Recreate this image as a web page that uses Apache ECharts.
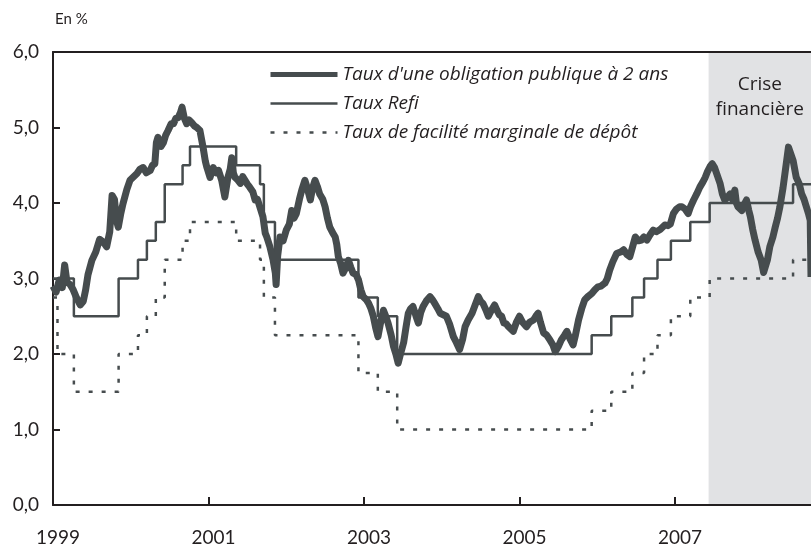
<!DOCTYPE html>
<html lang="fr">
<head>
  <meta charset="utf-8">
  <title>Taux d'intérêt</title>
  <style>
    * { margin: 0; padding: 0; }
    #chart-container { width: 811px; height: 549px; }
  </style>
</head>
<body>
  <div id="chart-container"></div>
  <script src="https://cdn.jsdelivr.net/npm/echarts@6/dist/echarts.min.js"></script>
  <script>
    // --- data ---
    var yearLabels = [1999, 2001, 2003, 2005, 2007];
    var xStart = 1999;
    var xEnd = 2008.75;
    var crisisStart = '2007-06-08';

    var bondName = "Taux d'une obligation publique à 2 ans";
    var refiName = 'Taux Refi';
    var depositName = 'Taux de facilité marginale de dépôt';

    // ECB rate changes (date, level)
    var refiDates = ['1999-01-01', '1999-04-09', '1999-11-05', '2000-02-04', '2000-03-17', '2000-04-28',
      '2000-06-09', '2000-09-01', '2000-10-06', '2001-05-11', '2001-08-31', '2001-09-18', '2001-11-09',
      '2002-12-06', '2003-03-07', '2003-06-06', '2005-12-06', '2006-03-08', '2006-06-15', '2006-08-09',
      '2006-10-11', '2006-12-13', '2007-03-14', '2007-06-13', '2008-07-09'];
    var refiValues = [3.0, 2.5, 3.0, 3.25, 3.5, 3.75, 4.25, 4.5, 4.75, 4.5, 4.25, 3.75, 3.25,
      2.75, 2.5, 2.0, 2.25, 2.5, 2.75, 3.0, 3.25, 3.5, 3.75, 4.0, 4.25];

    var depositDates = ['1999-01-01', '1999-01-22', '1999-04-09', '1999-11-05', '2000-02-04', '2000-03-17',
      '2000-04-28', '2000-06-09', '2000-09-01', '2000-10-06', '2001-05-11', '2001-08-31', '2001-09-18',
      '2001-11-09', '2002-12-06', '2003-03-07', '2003-06-06', '2005-12-06', '2006-03-08', '2006-06-15',
      '2006-08-09', '2006-10-11', '2006-12-13', '2007-03-14', '2007-06-13', '2008-07-09'];
    var depositValues = [2.75, 2.0, 1.5, 2.0, 2.25, 2.5, 2.75, 3.25, 3.5, 3.75, 3.5, 3.25, 2.75,
      2.25, 1.75, 1.5, 1.0, 1.25, 1.5, 1.75, 2.0, 2.25, 2.5, 2.75, 3.0, 3.25];

    // 2-year government bond yield [year, %]
    var bondSeries = [
      [1999.00, 2.90], [1999.04, 2.82], [1999.08, 2.98], [1999.12, 2.88], [1999.15, 3.18], [1999.18, 2.95],
      [1999.22, 2.92], [1999.26, 2.85], [1999.30, 2.75], [1999.35, 2.65], [1999.39, 2.70], [1999.42, 2.85],
      [1999.45, 3.05], [1999.50, 3.24], [1999.55, 3.35], [1999.60, 3.52], [1999.65, 3.48], [1999.69, 3.42],
      [1999.73, 3.62], [1999.76, 4.10], [1999.79, 4.05], [1999.82, 3.75], [1999.84, 3.68], [1999.87, 3.85],
      [1999.90, 3.99], [1999.95, 4.18], [1999.99, 4.30], [2000.04, 4.35], [2000.08, 4.39], [2000.12, 4.45],
      [2000.16, 4.47], [2000.20, 4.40], [2000.25, 4.43], [2000.28, 4.50], [2000.31, 4.52], [2000.33, 4.80],
      [2000.35, 4.87], [2000.39, 4.75], [2000.42, 4.80], [2000.45, 4.90], [2000.48, 4.96], [2000.52, 5.05],
      [2000.55, 5.05], [2000.58, 5.12], [2000.61, 5.13], [2000.64, 5.20], [2000.66, 5.27], [2000.69, 5.12],
      [2000.72, 5.05], [2000.75, 5.10], [2000.78, 5.07], [2000.82, 5.02], [2000.85, 5.00], [2000.89, 4.96],
      [2000.93, 4.74], [2000.96, 4.55], [2000.98, 4.47], [2001.02, 4.34], [2001.06, 4.47], [2001.10, 4.40],
      [2001.13, 4.43], [2001.17, 4.30], [2001.21, 4.08], [2001.25, 4.34], [2001.28, 4.45], [2001.30, 4.60],
      [2001.32, 4.40], [2001.34, 4.34], [2001.38, 4.30], [2001.41, 4.26], [2001.44, 4.35], [2001.47, 4.30],
      [2001.50, 4.25], [2001.53, 4.21], [2001.57, 4.15], [2001.60, 4.04], [2001.63, 4.05], [2001.66, 3.95],
      [2001.70, 3.82], [2001.73, 3.60], [2001.75, 3.55], [2001.79, 3.42], [2001.83, 3.25], [2001.86, 3.07],
      [2001.87, 2.92], [2001.89, 3.30], [2001.92, 3.55], [2001.96, 3.50], [2002.00, 3.64], [2002.04, 3.72],
      [2002.07, 3.90], [2002.10, 3.80], [2002.13, 3.86], [2002.17, 4.05], [2002.20, 4.17], [2002.24, 4.30],
      [2002.27, 4.20], [2002.31, 4.04], [2002.34, 4.20], [2002.37, 4.30], [2002.40, 4.22], [2002.43, 4.12],
      [2002.47, 4.05], [2002.50, 3.95], [2002.53, 3.80], [2002.56, 3.68], [2002.60, 3.60], [2002.63, 3.55],
      [2002.65, 3.45], [2002.67, 3.29], [2002.70, 3.20], [2002.73, 3.07], [2002.77, 3.15], [2002.80, 3.24],
      [2002.83, 3.15], [2002.86, 3.07], [2002.90, 3.05], [2002.93, 2.98], [2002.96, 2.85], [2002.99, 2.76],
      [2003.03, 2.72], [2003.06, 2.67], [2003.09, 2.60], [2003.12, 2.50], [2003.15, 2.35], [2003.18, 2.23],
      [2003.22, 2.45], [2003.25, 2.58], [2003.28, 2.50], [2003.31, 2.41], [2003.35, 2.25], [2003.38, 2.10],
      [2003.41, 2.00], [2003.44, 1.88], [2003.47, 2.00], [2003.51, 2.15], [2003.54, 2.35], [2003.57, 2.54],
      [2003.60, 2.60], [2003.63, 2.63], [2003.67, 2.50], [2003.70, 2.41], [2003.73, 2.55], [2003.76, 2.63],
      [2003.80, 2.70], [2003.85, 2.76], [2003.88, 2.72], [2003.91, 2.67], [2003.95, 2.60], [2003.98, 2.54],
      [2004.02, 2.52], [2004.06, 2.50], [2004.10, 2.40], [2004.15, 2.23], [2004.19, 2.15], [2004.23, 2.06],
      [2004.27, 2.20], [2004.30, 2.36], [2004.34, 2.45], [2004.39, 2.54], [2004.43, 2.65], [2004.47, 2.76],
      [2004.50, 2.70], [2004.53, 2.67], [2004.57, 2.58], [2004.60, 2.50], [2004.64, 2.58], [2004.68, 2.65],
      [2004.71, 2.58], [2004.74, 2.52], [2004.77, 2.50], [2004.80, 2.41], [2004.83, 2.40], [2004.86, 2.36],
      [2004.92, 2.30], [2004.96, 2.42], [2005.00, 2.50], [2005.04, 2.42], [2005.09, 2.36], [2005.13, 2.42],
      [2005.18, 2.45], [2005.21, 2.50], [2005.24, 2.54], [2005.27, 2.42], [2005.31, 2.28], [2005.35, 2.25],
      [2005.39, 2.19], [2005.43, 2.12], [2005.46, 2.03], [2005.50, 2.10], [2005.54, 2.19], [2005.58, 2.25],
      [2005.61, 2.30], [2005.65, 2.20], [2005.69, 2.12], [2005.72, 2.25], [2005.76, 2.45], [2005.80, 2.60],
      [2005.84, 2.72], [2005.88, 2.76], [2005.93, 2.80], [2005.97, 2.85], [2006.01, 2.89], [2006.05, 2.90],
      [2006.10, 2.94], [2006.13, 3.00], [2006.16, 3.11], [2006.20, 3.22], [2006.25, 3.33], [2006.30, 3.35],
      [2006.34, 3.38], [2006.38, 3.32], [2006.42, 3.29], [2006.45, 3.40], [2006.49, 3.55], [2006.53, 3.50],
      [2006.57, 3.51], [2006.60, 3.55], [2006.64, 3.51], [2006.68, 3.58], [2006.72, 3.64], [2006.76, 3.62],
      [2006.81, 3.65], [2006.84, 3.68], [2006.87, 3.71], [2006.91, 3.70], [2006.94, 3.72], [2006.98, 3.86],
      [2007.02, 3.92], [2007.06, 3.95], [2007.09, 3.95], [2007.13, 3.92], [2007.17, 3.86], [2007.20, 3.95],
      [2007.24, 4.04], [2007.28, 4.12], [2007.32, 4.21], [2007.36, 4.28], [2007.39, 4.34], [2007.42, 4.42],
      [2007.45, 4.48], [2007.48, 4.52], [2007.51, 4.47], [2007.55, 4.35], [2007.58, 4.26], [2007.61, 4.12],
      [2007.64, 4.04], [2007.68, 4.08], [2007.71, 4.12], [2007.74, 4.05], [2007.77, 4.17], [2007.79, 4.00],
      [2007.81, 3.95], [2007.86, 3.90], [2007.89, 3.98], [2007.92, 4.04], [2007.95, 3.90], [2007.97, 3.82],
      [2008.00, 3.65], [2008.03, 3.51], [2008.07, 3.35], [2008.11, 3.24], [2008.14, 3.08], [2008.16, 3.10],
      [2008.19, 3.25], [2008.22, 3.42], [2008.26, 3.55], [2008.29, 3.68], [2008.32, 3.80], [2008.35, 3.95],
      [2008.39, 4.20], [2008.42, 4.43], [2008.46, 4.74], [2008.49, 4.65], [2008.52, 4.56], [2008.56, 4.34],
      [2008.60, 4.25], [2008.63, 4.12], [2008.66, 4.05], [2008.69, 3.95], [2008.72, 3.85], [2008.74, 3.77],
      [2008.75, 3.02]
    ];

    // --- helpers ---
    function yr(s) {
      var d = new Date(s + 'T00:00:00Z');
      var y = d.getUTCFullYear();
      var a = Date.UTC(y, 0, 1), b = Date.UTC(y + 1, 0, 1);
      return y + (d.getTime() - a) / (b - a);
    }
    function steps(dates, values) {
      var out = dates.map(function (d, i) { return [yr(d), values[i]]; });
      out.push([xEnd, values[values.length - 1]]);
      return out;
    }

    var ink = '#231f20';
    var lineColor = '#464c4e';
    var noSymbol = { color: 'rgba(0,0,0,0)', borderColor: 'rgba(0,0,0,0)', borderWidth: 0, opacity: 0 };

    var dom = document.getElementById('chart-container');
    var myChart = echarts.init(dom, null, { renderer: 'canvas' });

    var option = {
      animation: false,
      backgroundColor: '#fff',
      textStyle: { fontFamily: 'Lato' },
      title: {
        text: 'En %',
        left: 50,
        top: 7,
        textStyle: { fontSize: 15, fontWeight: 'normal', color: ink, fontFamily: 'Lato' }
      },
      legend: {
        orient: 'vertical',
        left: 263,
        top: 60,
        itemWidth: 67,
        itemHeight: 18,
        itemGap: 10,
        itemStyle: noSymbol,
        textStyle: { fontSize: 19, fontStyle: 'italic', color: ink, fontFamily: 'Open Sans' },
        data: [
          { name: bondName, lineStyle: { width: 5 }, itemStyle: noSymbol },
          { name: refiName, lineStyle: { width: 2.5 }, itemStyle: noSymbol },
          { name: depositName, lineStyle: { width: 2.5 }, itemStyle: noSymbol }
        ]
      },
      grid: { left: 53, right: 0, top: 52, bottom: 44 },
      xAxis: [
        {
          type: 'value',
          min: xStart,
          max: xEnd,
          z: 3,
          splitLine: { show: false },
          axisLine: { lineStyle: { color: ink, width: 2 } },
          axisTick: { inside: true, length: 8, lineStyle: { color: ink, width: 2 }, customValues: yearLabels },
          axisLabel: {
            customValues: yearLabels,
            fontSize: 19,
            color: ink,
            margin: 23,
            padding: [0, 0, 0, 10],
            formatter: function (v) { return String(Math.round(v)); }
          }
        },
        {
          type: 'value',
          position: 'top',
          min: xStart,
          max: xEnd,
          z: 3,
          splitLine: { show: false },
          axisLine: { lineStyle: { color: ink, width: 2 } },
          axisTick: { show: false },
          axisLabel: { show: false }
        }
      ],
      yAxis: {
        type: 'value',
        min: 0,
        max: 6,
        interval: 1,
        z: 3,
        splitLine: { show: false },
        axisLine: { show: true, lineStyle: { color: ink, width: 2 } },
        axisTick: { show: true, inside: true, length: 7, lineStyle: { color: ink, width: 2 } },
        axisLabel: {
          fontSize: 19,
          color: ink,
          margin: 14,
          formatter: function (v) { return v.toFixed(1).replace('.', ','); }
        }
      },
      series: [
        {
          name: depositName,
          type: 'line',
          step: 'end',
          symbol: 'none',
          data: steps(depositDates, depositValues),
          lineStyle: { color: lineColor, width: 2.5, type: [4, 9] },
          itemStyle: { color: lineColor },
          markArea: {
            silent: true,
            itemStyle: { color: '#e1e2e4' },
            label: {
              show: true,
              position: 'insideTop',
              distance: 20,
              fontSize: 19,
              lineHeight: 25,
              color: ink,
              fontFamily: 'Open Sans'
            },
            data: [[{ xAxis: yr(crisisStart), name: 'Crise\nfinancière' }, { xAxis: xEnd }]]
          }
        },
        {
          name: refiName,
          type: 'line',
          step: 'end',
          symbol: 'none',
          data: steps(refiDates, refiValues),
          lineStyle: { color: lineColor, width: 2.5 },
          itemStyle: { color: lineColor }
        },
        {
          name: bondName,
          type: 'line',
          symbol: 'none',
          data: bondSeries,
          lineStyle: { color: lineColor, width: 7, join: 'round' },
          itemStyle: { color: lineColor }
        }
      ]
    };

    myChart.setOption(option);
    window.addEventListener('resize', myChart.resize);
  </script>
</body>
</html>
